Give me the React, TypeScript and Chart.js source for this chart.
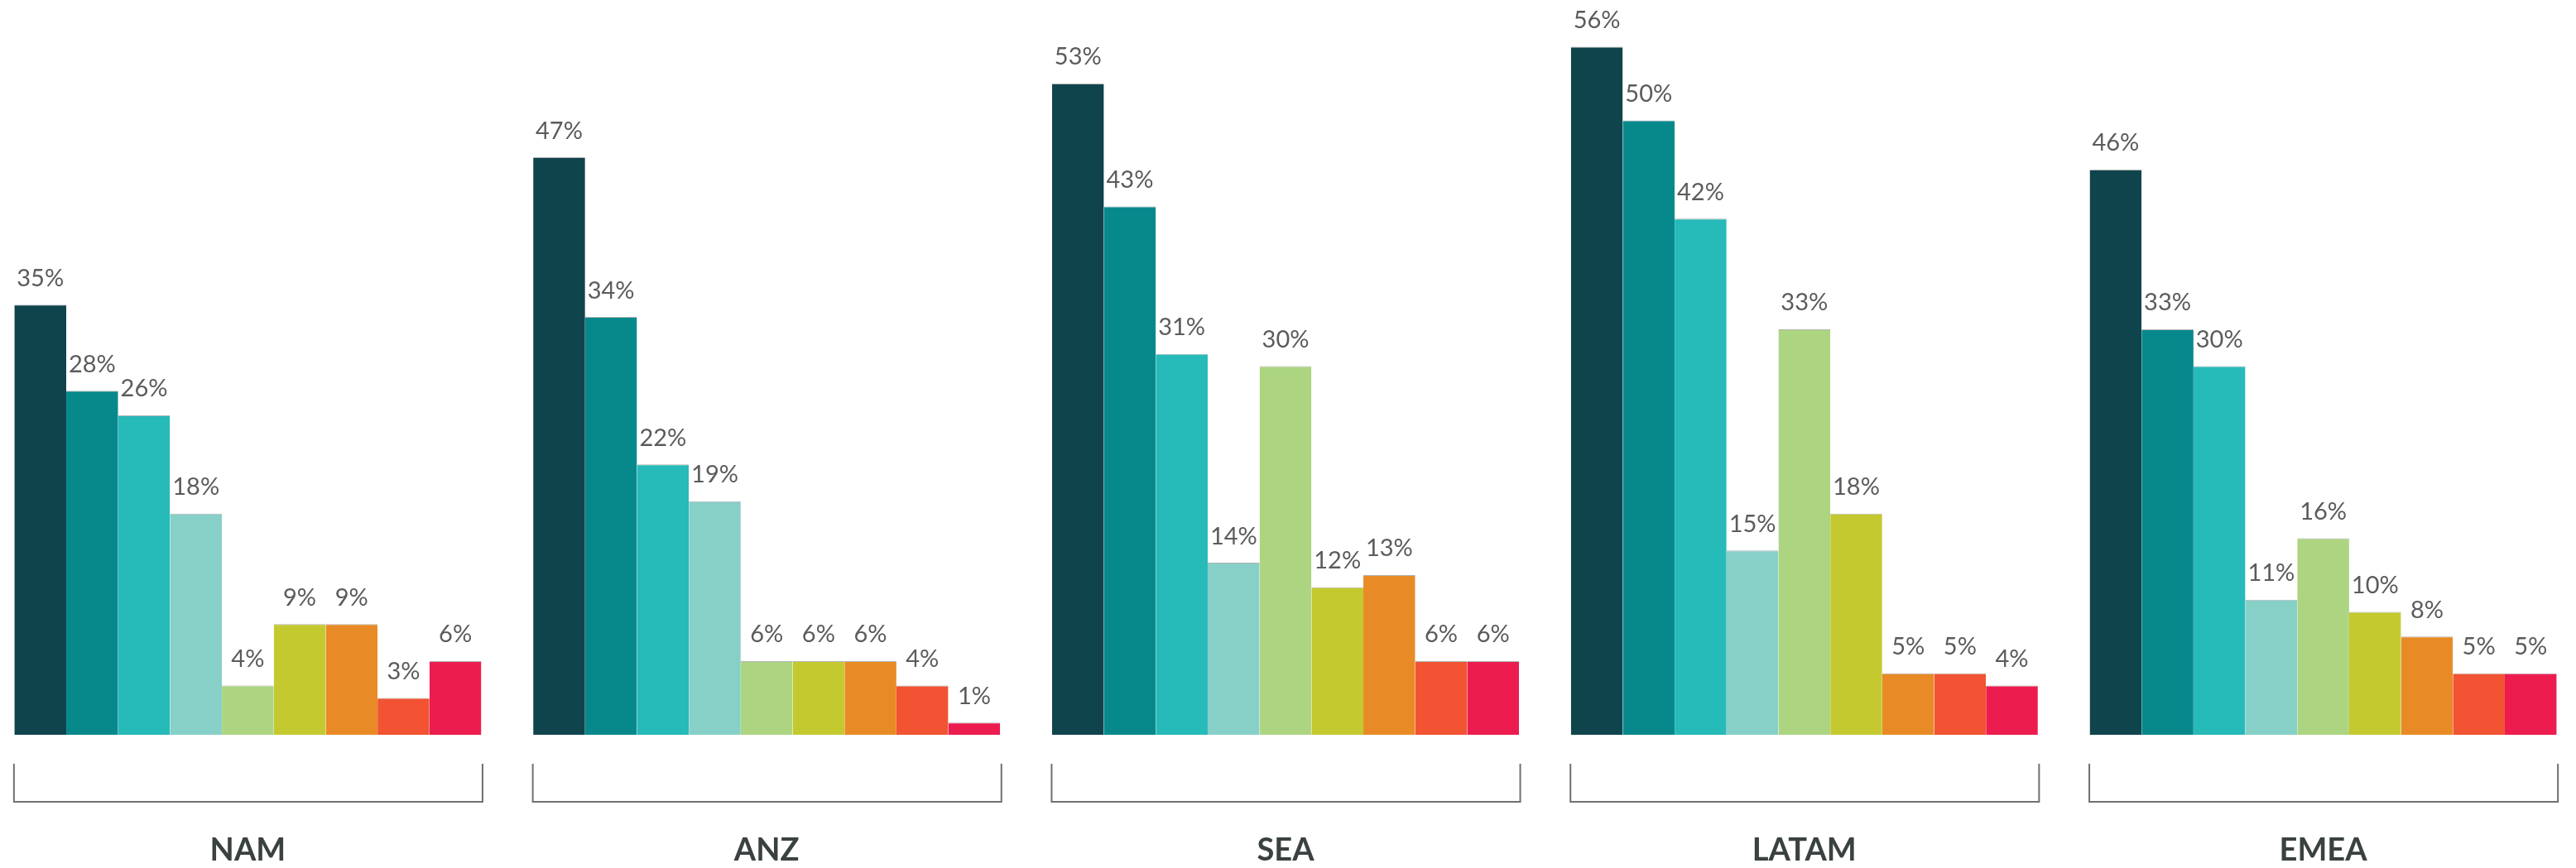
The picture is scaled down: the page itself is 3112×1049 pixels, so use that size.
import React, { useEffect, useRef } from "react";
import { Chart, registerables } from "chart.js";

Chart.register(...registerables);

const regions = ["NAM", "ANZ", "SEA", "LATAM", "EMEA"];
const seriesNames = ["Series 1", "Series 2", "Series 3", "Series 4", "Series 5", "Series 6", "Series 7", "Series 8", "Series 9"];
const series1 = [35, 47, 53, 56, 46];
const series2 = [28, 34, 43, 50, 33];
const series3 = [26, 22, 31, 42, 30];
const series4 = [18, 19, 14, 15, 11];
const series5 = [4, 6, 30, 33, 16];
const series6 = [9, 6, 12, 18, 10];
const series7 = [9, 6, 13, 5, 8];
const series8 = [3, 4, 6, 5, 5];
const series9 = [6, 1, 6, 4, 5];
const seriesValues = [series1, series2, series3, series4, series5, series6, series7, series8, series9];
const seriesColors = ["#10444d", "#07898c", "#26bab9", "#86d0c8", "#add581", "#c5c930", "#e88b26", "#f25332", "#ed1c4f"];

const overlayPlugin = {
  id: "overlay",
  afterDatasetsDraw(chart: any) {
    const ctx = chart.ctx;
    ctx.save();
    // value labels
    ctx.font = "29px Lato";
    ctx.fillStyle = "#5b5b5b";
    ctx.textAlign = "center";
    ctx.textBaseline = "alphabetic";
    chart.data.datasets.forEach((ds: any, di: number) => {
      const meta = chart.getDatasetMeta(di);
      meta.data.forEach((bar: any, i: number) => {
        ctx.fillText(ds.data[i] + "%", bar.x, bar.y - 22.5);
      });
    });
    // brackets
    const first = chart.getDatasetMeta(0);
    const last = chart.getDatasetMeta(chart.data.datasets.length - 1);
    const bottom = chart.chartArea.bottom;
    ctx.strokeStyle = "#707070";
    ctx.lineWidth = 2;
    regions.forEach((_, i) => {
      const b0 = first.data[i];
      const b1 = last.data[i];
      const left = b0.x - b0.width / 2 - 0.5;
      const right = b1.x + b1.width / 2 + 1.5;
      ctx.beginPath();
      ctx.moveTo(left, bottom + 35);
      ctx.lineTo(left, bottom + 81);
      ctx.lineTo(right, bottom + 81);
      ctx.lineTo(right, bottom + 35);
      ctx.stroke();
    });
    ctx.restore();
  },
};

export default function App() {
  const ref = useRef<HTMLCanvasElement | null>(null);
  useEffect(() => {
    if (!ref.current) return;
    const chart = new Chart(ref.current, {
      type: "bar",
      data: {
        labels: regions,
        datasets: seriesValues.map((vals, i) => ({
          label: seriesNames[i],
          data: vals,
          backgroundColor: seriesColors[i],
          borderColor: "rgba(170,170,170,0.9)",
          borderWidth: { top: 1, left: 0, right: 0, bottom: 0 },
          borderSkipped: "bottom",
          categoryPercentage: 0.9,
          barPercentage: 1,
        })),
      },
      options: {
        responsive: false,
        animation: false,
        devicePixelRatio: 1,
        layout: { padding: { top: 0, bottom: 0, left: 0, right: 0 } },
        plugins: { legend: { display: false }, tooltip: { enabled: false } },
        scales: {
          x: {
            grid: { display: false, drawTicks: false },
            border: { display: false },
            afterFit: (scale: any) => {
              scale.height = 161;
            },
            ticks: {
              padding: 117,
              color: "#3a4241",
              font: { family: "Lato", size: 38, weight: "bold" },
            },
          },
          y: {
            display: false,
            min: 0,
            max: 59.8,
          },
        },
      },
      plugins: [overlayPlugin],
    });
    return () => chart.destroy();
  }, []);
  return (
    <div style={{ position: "fixed", top: 0, left: 0, width: "3112px", height: "1049px", overflow: "hidden", background: "#fff" }}>
      <canvas
        ref={ref}
        width={3134}
        height={1049}
        style={{ position: "absolute", left: "-14px", top: 0, width: "3134px", height: "1049px" }}
      />
    </div>
  );
}
